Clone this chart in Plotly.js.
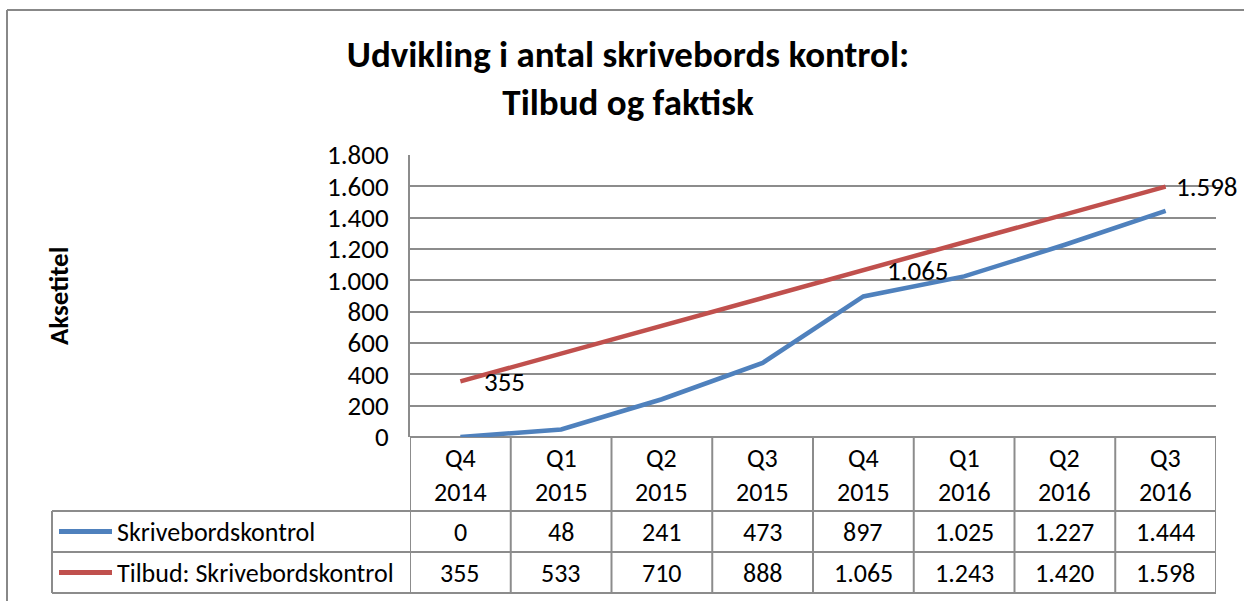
<!DOCTYPE html>
<html>
<head>
<meta charset="utf-8">
<script src="https://cdn.plot.ly/plotly-3.0.1.min.js"></script>
<style>
  html, body { margin: 0; padding: 0; background: #fff; }
  #chart { width: 1244px; height: 601px; }
</style>
</head>
<body>
<div id="chart"></div>
<script>
// ── Data ──────────────────────────────────────────────────────
const QUARTERS = ["Q4", "Q1", "Q2", "Q3", "Q4", "Q1", "Q2", "Q3"];
const YEARS    = ["2014", "2015", "2015", "2015", "2015", "2016", "2016", "2016"];
const ACTUAL   = [0, 48, 241, 473, 897, 1025, 1227, 1444];
const OFFER    = [355, 533, 710, 888, 1065, 1243, 1420, 1598];
const SERIES_NAMES = ["Skrivebordskontrol", "Tilbud: Skrivebordskontrol"];
const LABELLED = [0, 4, 7];          // points of the offer series with data labels

// ── Styling ───────────────────────────────────────────────────
const BLUE = "#4F81BD";
const RED  = "#C0504D";
const GRID = "#8c8c8c";
const FONT = "Carlito, Lato, sans-serif";
const TXT  = 26;
const W = 1244, H = 601;
// plot area in px
const L = 410, R = 1216, T = 155, B = 437;
const ROW1 = 511, ROW2 = 552, ROW3 = 593, TABLE_LEFT = 52;

const py = p => (B - p) / (B - T);          // px -> paper y
const px = p => (p - L) / (R - L);          // px -> paper x

// Danish number format: 1.065
const fmt = v => v.toString().replace(/\B(?=(\d{3})+(?!\d))/g, ".");

const cats = QUARTERS.map((q, i) => `${q} ${YEARS[i]}`);

const traces = [
  {
    name: SERIES_NAMES[0], x: cats, y: ACTUAL, type: "scatter", mode: "lines",
    line: { color: BLUE, width: 4.5 }, cliponaxis: false,
  },
  {
    name: SERIES_NAMES[1], x: cats, y: OFFER, type: "scatter", mode: "lines",
    line: { color: RED, width: 4.5 }, cliponaxis: false,
  },
];

// ── Data table (shapes + annotations) ─────────────────────────
const lineStyle = { color: GRID, width: 2 };
const cellFont = { family: FONT, size: TXT, color: "#000" };
const shapes = [];
const annotations = [];

// horizontal table lines
[ROW1, ROW2, ROW3].forEach(r => {
  shapes.push({ type: "line", xref: "paper", yref: "paper",
    x0: px(TABLE_LEFT), x1: 1, y0: py(r), y1: py(r), line: lineStyle });
});
// vertical category boundaries
for (let i = 0; i <= cats.length; i++) {
  shapes.push({ type: "line", xref: "x", yref: "paper",
    x0: i - 0.5, x1: i - 0.5, y0: 0, y1: py(ROW3), line: lineStyle });
}
// left edge of legend column
shapes.push({ type: "line", xref: "paper", yref: "paper",
  x0: px(TABLE_LEFT), x1: px(TABLE_LEFT), y0: py(ROW1), y1: py(ROW3), line: lineStyle });

// header cells
cats.forEach((c, i) => {
  annotations.push({ x: i, xref: "x", y: py((B + ROW1) / 2 + 1), yref: "paper",
    xanchor: "center", yanchor: "middle",
    text: `${QUARTERS[i]}<br>${YEARS[i]}`, showarrow: false,
    font: cellFont, align: "center" });
});

// value rows
[[ACTUAL, BLUE, ROW1, ROW2], [OFFER, RED, ROW2, ROW3]].forEach(([vals, color, top, bottom], k) => {
  const mid = (top + bottom) / 2;
  vals.forEach((v, i) => {
    annotations.push({ x: i, xref: "x", y: py(mid), yref: "paper",
      xanchor: "center", yanchor: "middle",
      text: fmt(v), showarrow: false, font: cellFont });
  });
  // legend key
  shapes.push({ type: "line", xref: "paper", yref: "paper",
    x0: px(59), x1: px(112), y0: py(mid), y1: py(mid),
    line: { color, width: 5 } });
  annotations.push({ x: px(115), xref: "paper", y: py(mid), yref: "paper",
    xanchor: "left", yanchor: "middle", text: SERIES_NAMES[k], showarrow: false,
    font: cellFont });
});

// data labels on the offer series
const LABEL_SHIFT = [22, 22, 8];
LABELLED.forEach((idx, j) => {
  annotations.push({ x: idx, xref: "x", y: OFFER[idx], yref: "y",
    xanchor: "left", yanchor: "middle", xshift: LABEL_SHIFT[j],
    text: fmt(OFFER[idx]), showarrow: false, font: { family: FONT, size: 27, color: "#000" } });
});

// axis title
annotations.push({ x: px(58), xref: "paper", y: 0.5, yref: "paper",
  xanchor: "center", yanchor: "middle",
  text: "<b>Aksetitel</b>", textangle: -90, showarrow: false,
  font: { family: FONT, size: 27, color: "#000" } });

// outer chart frame (left + top edges visible)
shapes.push({ type: "line", xref: "paper", yref: "paper",
  x0: px(7), x1: px(7), y0: py(10), y1: py(H + 10), line: { color: "#888", width: 2 } });
shapes.push({ type: "line", xref: "paper", yref: "paper",
  x0: px(7), x1: px(W + 10), y0: py(10), y1: py(10), line: { color: "#888", width: 2 } });

const layout = {
  width: W, height: H,
  margin: { l: L, r: W - R, t: T, b: H - B, pad: 0 },
  paper_bgcolor: "#fff", plot_bgcolor: "#fff",
  separators: ",.",
  showlegend: false,
  font: { family: FONT, color: "#000" },
  title: {
    text: "<b>Udvikling i antal skrivebords kontrol:<br>Tilbud og faktisk</b>",
    x: 628 / W, xanchor: "center", xref: "container",
    y: 1 - 67 / H, yanchor: "middle", yref: "container",
    font: { family: FONT, size: 37, color: "#000" },
  },
  xaxis: {
    type: "category", range: [-0.5, cats.length - 0.5],
    showgrid: false, showticklabels: false, zeroline: false, showline: false, ticks: "",
  },
  yaxis: {
    range: [0, 1800], dtick: 200, tickformat: ",d",
    showgrid: true, gridcolor: GRID, gridwidth: 2,
    zeroline: true, zerolinecolor: GRID, zerolinewidth: 2,
    showline: true, linecolor: GRID, linewidth: 2,
    ticks: "", ticklabelstandoff: 14,
    tickfont: { family: FONT, size: 27, color: "#000" },
  },
  shapes, annotations,
};

Plotly.newPlot("chart", traces, layout, { displayModeBar: false, staticPlot: true });
</script>
</body>
</html>
